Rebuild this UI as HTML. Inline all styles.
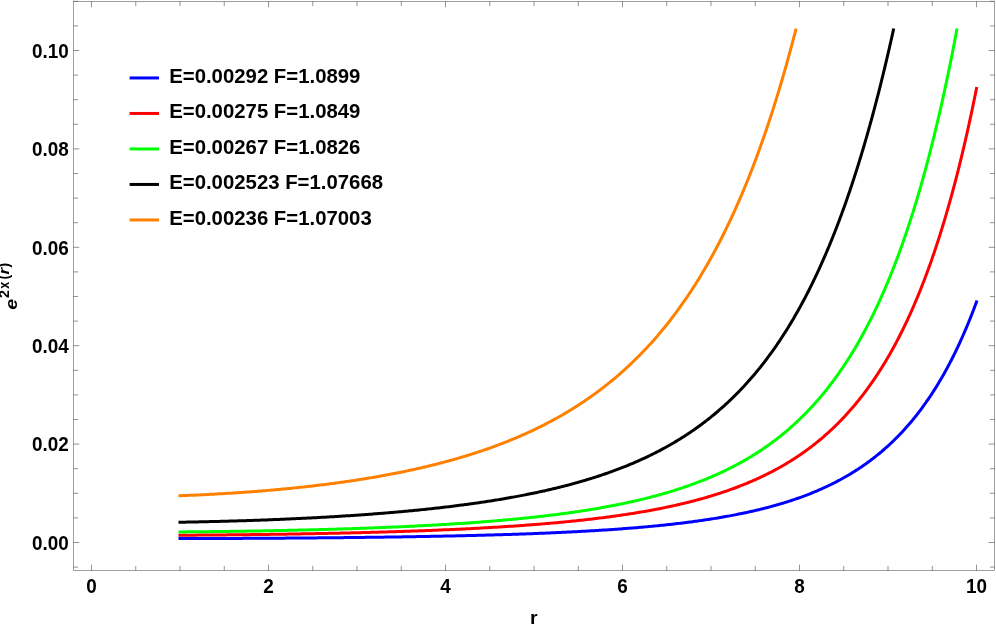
<!DOCTYPE html>
<html><head><meta charset="utf-8"><title>plot</title>
<style>
html,body{margin:0;padding:0;background:#fff;}
body{width:996px;height:626px;overflow:hidden;}
svg{display:block;will-change:transform;}
text{font-family:"Liberation Sans",sans-serif;font-weight:bold;fill:#000;}
</style></head><body>
<svg width="996" height="626" viewBox="0 0 996 626">
<rect x="0" y="0" width="996" height="626" fill="#fff"/>
<g fill="none" stroke-width="3" stroke-linecap="square" stroke-linejoin="round">
<path stroke="#0000ff" d="M180.00,538.61 L181.77,538.61 L183.54,538.60 L185.31,538.60 L187.08,538.59 L188.85,538.59 L190.62,538.58 L192.39,538.58 L194.16,538.57 L195.93,538.57 L197.70,538.56 L199.47,538.56 L201.24,538.55 L203.01,538.54 L204.78,538.54 L206.55,538.53 L208.32,538.52 L210.09,538.52 L211.86,538.51 L213.63,538.50 L215.40,538.50 L217.17,538.49 L218.94,538.48 L220.71,538.48 L222.48,538.47 L224.25,538.46 L226.02,538.45 L227.79,538.45 L229.56,538.44 L231.33,538.43 L233.10,538.42 L234.87,538.41 L236.64,538.41 L238.41,538.40 L240.18,538.39 L241.95,538.38 L243.72,538.37 L245.49,538.36 L247.26,538.35 L249.03,538.34 L250.80,538.33 L252.57,538.32 L254.34,538.31 L256.11,538.30 L257.88,538.29 L259.65,538.28 L261.42,538.27 L263.19,538.26 L264.96,538.25 L266.73,538.24 L268.50,538.23 L270.27,538.22 L272.04,538.21 L273.81,538.20 L275.58,538.19 L277.35,538.18 L279.12,538.16 L280.89,538.15 L282.66,538.14 L284.43,538.13 L286.20,538.12 L287.97,538.10 L289.74,538.09 L291.51,538.08 L293.28,538.06 L295.05,538.05 L296.82,538.04 L298.59,538.02 L300.36,538.01 L302.13,538.00 L303.90,537.98 L305.67,537.97 L307.44,537.95 L309.21,537.94 L310.98,537.93 L312.75,537.91 L314.52,537.90 L316.29,537.88 L318.06,537.86 L319.83,537.85 L321.60,537.83 L323.37,537.82 L325.14,537.80 L326.91,537.78 L328.68,537.77 L330.45,537.75 L332.22,537.73 L333.99,537.72 L335.76,537.70 L337.53,537.68 L339.30,537.66 L341.07,537.64 L342.84,537.63 L344.61,537.61 L346.38,537.59 L348.15,537.57 L349.92,537.55 L351.69,537.53 L353.46,537.51 L355.23,537.49 L357.00,537.47 L358.77,537.45 L360.54,537.43 L362.31,537.41 L364.08,537.39 L365.85,537.37 L367.62,537.35 L369.39,537.32 L371.16,537.30 L372.93,537.28 L374.70,537.26 L376.47,537.23 L378.24,537.21 L380.01,537.19 L381.78,537.16 L383.55,537.14 L385.32,537.11 L387.09,537.09 L388.86,537.06 L390.63,537.04 L392.40,537.01 L394.17,536.99 L395.94,536.96 L397.71,536.94 L399.48,536.91 L401.25,536.88 L403.02,536.85 L404.79,536.83 L406.56,536.80 L408.33,536.77 L410.10,536.74 L411.87,536.71 L413.64,536.68 L415.41,536.65 L417.18,536.62 L418.95,536.59 L420.72,536.56 L422.49,536.53 L424.26,536.50 L426.03,536.47 L427.80,536.43 L429.57,536.40 L431.34,536.37 L433.11,536.33 L434.88,536.30 L436.65,536.27 L438.42,536.23 L440.19,536.20 L441.96,536.16 L443.73,536.12 L445.50,536.09 L447.27,536.05 L449.04,536.01 L450.81,535.98 L452.58,535.94 L454.35,535.90 L456.12,535.86 L457.89,535.82 L459.66,535.78 L461.43,535.74 L463.20,535.70 L464.97,535.66 L466.74,535.62 L468.51,535.57 L470.28,535.53 L472.05,535.49 L473.82,535.44 L475.59,535.40 L477.36,535.35 L479.13,535.31 L480.90,535.26 L482.67,535.21 L484.44,535.16 L486.21,535.12 L487.98,535.07 L489.75,535.02 L491.52,534.97 L493.29,534.92 L495.06,534.87 L496.83,534.81 L498.60,534.76 L500.37,534.71 L502.14,534.66 L503.91,534.60 L505.68,534.55 L507.45,534.49 L509.22,534.43 L510.99,534.38 L512.76,534.32 L514.53,534.26 L516.30,534.20 L518.07,534.14 L519.84,534.08 L521.61,534.02 L523.38,533.95 L525.15,533.89 L526.92,533.83 L528.69,533.76 L530.46,533.70 L532.23,533.63 L534.00,533.56 L535.77,533.49 L537.54,533.42 L539.31,533.35 L541.08,533.28 L542.85,533.21 L544.62,533.14 L546.39,533.06 L548.16,532.99 L549.93,532.91 L551.70,532.84 L553.47,532.76 L555.24,532.68 L557.01,532.60 L558.78,532.52 L560.55,532.44 L562.32,532.36 L564.09,532.27 L565.86,532.19 L567.63,532.10 L569.40,532.01 L571.17,531.92 L572.94,531.83 L574.71,531.74 L576.48,531.65 L578.25,531.56 L580.02,531.46 L581.79,531.37 L583.56,531.27 L585.33,531.17 L587.10,531.07 L588.87,530.97 L590.64,530.87 L592.41,530.76 L594.18,530.66 L595.95,530.55 L597.72,530.44 L599.49,530.33 L601.26,530.22 L603.03,530.11 L604.80,529.99 L606.57,529.88 L608.34,529.76 L610.11,529.64 L611.88,529.52 L613.65,529.40 L615.42,529.27 L617.19,529.15 L618.96,529.02 L620.73,528.89 L622.50,528.76 L624.27,528.62 L626.04,528.49 L627.81,528.35 L629.58,528.21 L631.35,528.07 L633.12,527.93 L634.89,527.78 L636.66,527.64 L638.43,527.49 L640.20,527.33 L641.97,527.18 L643.74,527.03 L645.51,526.87 L647.28,526.71 L649.05,526.54 L650.82,526.38 L652.59,526.21 L654.36,526.04 L656.13,525.87 L657.90,525.69 L659.67,525.52 L661.44,525.34 L663.21,525.15 L664.98,524.97 L666.75,524.78 L668.52,524.59 L670.29,524.40 L672.06,524.20 L673.83,524.00 L675.60,523.80 L677.37,523.59 L679.14,523.38 L680.91,523.17 L682.68,522.95 L684.45,522.74 L686.22,522.51 L687.99,522.29 L689.76,522.06 L691.09,521.89 L692.41,521.71 L693.74,521.53 L695.07,521.35 L696.40,521.17 L697.73,520.99 L699.05,520.80 L700.38,520.61 L701.71,520.42 L703.03,520.23 L704.36,520.04 L705.69,519.84 L707.02,519.64 L708.35,519.44 L709.67,519.23 L711.00,519.03 L712.33,518.82 L713.65,518.61 L714.98,518.39 L716.31,518.18 L717.64,517.96 L718.97,517.74 L720.29,517.51 L721.62,517.29 L722.95,517.06 L724.27,516.83 L725.60,516.59 L726.93,516.35 L728.26,516.11 L729.59,515.87 L730.91,515.62 L732.24,515.37 L733.57,515.12 L734.90,514.86 L736.22,514.61 L737.55,514.34 L738.88,514.08 L740.21,513.81 L741.53,513.54 L742.86,513.27 L744.19,512.99 L745.52,512.71 L746.84,512.42 L748.17,512.13 L749.50,511.84 L750.83,511.55 L752.15,511.25 L753.48,510.94 L754.81,510.64 L756.13,510.33 L757.46,510.01 L758.79,509.69 L760.12,509.37 L761.45,509.05 L762.77,508.72 L764.10,508.38 L765.43,508.04 L766.75,507.70 L768.08,507.35 L769.41,507.00 L770.74,506.64 L772.07,506.28 L773.39,505.92 L774.72,505.55 L776.05,505.17 L777.38,504.79 L778.70,504.41 L780.03,504.02 L781.36,503.63 L782.69,503.23 L784.01,502.82 L785.34,502.41 L786.67,502.00 L788.00,501.58 L789.32,501.15 L790.65,500.72 L791.98,500.28 L793.30,499.84 L794.63,499.39 L795.96,498.94 L797.29,498.48 L798.62,498.01 L799.94,497.54 L801.27,497.06 L802.60,496.58 L803.93,496.08 L805.25,495.59 L806.58,495.08 L807.91,494.57 L809.23,494.05 L810.56,493.53 L811.89,492.99 L813.22,492.45 L814.54,491.91 L815.87,491.35 L817.20,490.79 L818.53,490.22 L819.86,489.64 L821.18,489.06 L822.51,488.47 L823.84,487.87 L825.16,487.26 L826.49,486.64 L827.82,486.01 L829.15,485.38 L830.48,484.73 L831.80,484.08 L833.13,483.42 L834.46,482.75 L835.78,482.07 L837.11,481.38 L838.44,480.68 L839.77,479.97 L841.09,479.25 L842.42,478.52 L843.75,477.79 L845.08,477.04 L846.41,476.28 L847.73,475.50 L849.06,474.72 L850.39,473.93 L851.72,473.12 L853.04,472.31 L854.37,471.48 L855.70,470.64 L857.02,469.79 L858.35,468.93 L859.68,468.05 L861.01,467.16 L862.34,466.26 L863.66,465.34 L864.55,464.73 L865.43,464.10 L866.32,463.47 L867.20,462.84 L868.09,462.19 L868.97,461.55 L869.86,460.89 L870.74,460.23 L871.63,459.56 L872.51,458.89 L873.40,458.21 L874.28,457.52 L875.17,456.83 L876.05,456.13 L876.94,455.42 L877.82,454.70 L878.71,453.98 L879.59,453.25 L880.48,452.52 L881.36,451.77 L882.25,451.02 L883.13,450.26 L884.02,449.50 L884.90,448.72 L885.79,447.94 L886.67,447.15 L887.56,446.35 L888.44,445.55 L889.33,444.73 L890.21,443.91 L891.10,443.08 L891.98,442.24 L892.87,441.39 L893.75,440.54 L894.64,439.67 L895.52,438.80 L896.41,437.92 L897.29,437.02 L898.18,436.12 L899.06,435.21 L899.95,434.29 L900.83,433.37 L901.72,432.43 L902.60,431.48 L903.49,430.52 L904.37,429.55 L905.26,428.57 L906.14,427.59 L907.03,426.59 L907.91,425.58 L908.80,424.56 L909.68,423.53 L910.57,422.49 L911.45,421.43 L912.34,420.37 L913.22,419.30 L914.11,418.21 L914.99,417.11 L915.88,416.00 L916.76,414.88 L917.65,413.75 L918.53,412.61 L919.42,411.45 L920.30,410.28 L921.19,409.10 L922.07,407.90 L922.96,406.70 L923.84,405.48 L924.73,404.24 L925.61,403.00 L926.50,401.74 L927.38,400.46 L928.27,399.17 L929.15,397.87 L930.04,396.56 L930.92,395.22 L931.81,393.88 L932.69,392.52 L933.58,391.15 L934.46,389.76 L935.35,388.35 L936.23,386.93 L937.12,385.49 L938.00,384.04 L938.89,382.57 L939.77,381.09 L940.66,379.59 L941.54,378.07 L942.43,376.53 L943.31,374.98 L944.20,373.41 L945.08,371.83 L945.97,370.22 L946.85,368.60 L947.74,366.96 L948.62,365.30 L949.51,363.62 L950.39,361.92 L951.28,360.20 L952.16,358.47 L953.05,356.71 L953.93,354.93 L954.82,353.14 L955.70,351.32 L956.59,349.48 L957.47,347.62 L958.36,345.74 L959.24,343.84 L960.13,341.91 L961.01,339.97 L961.90,338.00 L962.78,336.00 L963.67,333.99 L964.55,331.95 L965.44,329.89 L966.32,327.80 L967.21,325.69 L967.65,324.62 L968.09,323.55 L968.53,322.47 L968.98,321.39 L969.42,320.30 L969.86,319.20 L970.30,318.09 L970.75,316.98 L971.19,315.87 L971.63,314.74 L972.08,313.61 L972.52,312.48 L972.96,311.33 L973.40,310.18 L973.85,309.03 L974.29,307.86 L974.73,306.69 L975.17,305.51 L975.62,304.33 L976.06,303.14 L976.50,301.94"/>
<path stroke="#ff0000" d="M180.00,535.23 L181.77,535.22 L183.54,535.21 L185.31,535.20 L187.08,535.19 L188.85,535.18 L190.62,535.17 L192.39,535.15 L194.16,535.14 L195.93,535.13 L197.70,535.12 L199.47,535.10 L201.24,535.09 L203.01,535.08 L204.78,535.06 L206.55,535.05 L208.32,535.03 L210.09,535.02 L211.86,535.00 L213.63,534.99 L215.40,534.97 L217.17,534.96 L218.94,534.94 L220.71,534.93 L222.48,534.91 L224.25,534.89 L226.02,534.88 L227.79,534.86 L229.56,534.84 L231.33,534.82 L233.10,534.80 L234.87,534.79 L236.64,534.77 L238.41,534.75 L240.18,534.73 L241.95,534.71 L243.72,534.69 L245.49,534.67 L247.26,534.65 L249.03,534.63 L250.80,534.61 L252.57,534.59 L254.34,534.57 L256.11,534.54 L257.88,534.52 L259.65,534.50 L261.42,534.48 L263.19,534.46 L264.96,534.43 L266.73,534.41 L268.50,534.38 L270.27,534.36 L272.04,534.34 L273.81,534.31 L275.58,534.29 L277.35,534.26 L279.12,534.23 L280.89,534.21 L282.66,534.18 L284.43,534.16 L286.20,534.13 L287.97,534.10 L289.74,534.07 L291.51,534.04 L293.28,534.02 L295.05,533.99 L296.82,533.96 L298.59,533.93 L300.36,533.90 L302.13,533.87 L303.90,533.84 L305.67,533.81 L307.44,533.78 L309.21,533.74 L310.98,533.71 L312.75,533.68 L314.52,533.65 L316.29,533.61 L318.06,533.58 L319.83,533.55 L321.60,533.51 L323.37,533.48 L325.14,533.44 L326.91,533.40 L328.68,533.37 L330.45,533.33 L332.22,533.29 L333.99,533.26 L335.76,533.22 L337.53,533.18 L339.30,533.14 L341.07,533.10 L342.84,533.06 L344.61,533.02 L346.38,532.98 L348.15,532.94 L349.92,532.90 L351.69,532.86 L353.46,532.82 L355.23,532.77 L357.00,532.73 L358.77,532.69 L360.54,532.64 L362.31,532.60 L364.08,532.55 L365.85,532.50 L367.62,532.46 L369.39,532.41 L371.16,532.36 L372.93,532.31 L374.70,532.27 L376.47,532.22 L378.24,532.17 L380.01,532.12 L381.78,532.07 L383.55,532.01 L385.32,531.96 L387.09,531.91 L388.86,531.86 L390.63,531.80 L392.40,531.75 L394.17,531.69 L395.94,531.64 L397.71,531.58 L399.48,531.52 L401.25,531.47 L403.02,531.41 L404.79,531.35 L406.56,531.29 L408.33,531.23 L410.10,531.17 L411.87,531.11 L413.64,531.04 L415.41,530.98 L417.18,530.92 L418.95,530.85 L420.72,530.79 L422.49,530.72 L424.26,530.65 L426.03,530.59 L427.80,530.52 L429.57,530.45 L431.34,530.38 L433.11,530.31 L434.88,530.24 L436.65,530.17 L438.42,530.09 L440.19,530.02 L441.96,529.94 L443.73,529.87 L445.50,529.79 L447.27,529.72 L449.04,529.64 L450.81,529.56 L452.58,529.48 L454.35,529.40 L456.12,529.32 L457.89,529.23 L459.66,529.15 L461.43,529.06 L463.20,528.98 L464.97,528.89 L466.74,528.80 L468.51,528.72 L470.28,528.63 L472.05,528.53 L473.82,528.44 L475.59,528.35 L477.36,528.26 L479.13,528.16 L480.90,528.07 L482.67,527.97 L484.44,527.87 L486.21,527.77 L487.98,527.67 L489.75,527.57 L491.52,527.46 L493.29,527.36 L495.06,527.25 L496.83,527.15 L498.60,527.04 L500.37,526.93 L502.14,526.82 L503.91,526.71 L505.68,526.59 L507.45,526.48 L509.22,526.36 L510.99,526.25 L512.76,526.13 L514.53,526.01 L516.30,525.89 L518.07,525.76 L519.84,525.64 L521.61,525.51 L523.38,525.38 L525.15,525.25 L526.92,525.12 L528.69,524.99 L530.46,524.86 L532.23,524.72 L534.00,524.58 L535.77,524.45 L537.54,524.30 L539.31,524.16 L541.08,524.02 L542.85,523.87 L544.62,523.72 L546.39,523.58 L548.16,523.42 L549.93,523.27 L551.70,523.12 L553.47,522.96 L555.24,522.80 L557.01,522.64 L558.78,522.47 L560.55,522.31 L562.32,522.14 L564.09,521.97 L565.86,521.80 L567.63,521.63 L569.40,521.45 L571.17,521.27 L572.94,521.09 L574.71,520.91 L576.48,520.73 L578.25,520.54 L580.02,520.35 L581.79,520.16 L583.56,519.96 L585.33,519.76 L587.10,519.56 L588.87,519.36 L590.64,519.16 L592.41,518.95 L594.18,518.74 L595.95,518.53 L597.72,518.31 L599.49,518.09 L601.26,517.87 L603.03,517.65 L604.80,517.42 L606.13,517.25 L607.46,517.07 L608.78,516.89 L610.11,516.72 L611.44,516.54 L612.76,516.36 L614.09,516.17 L615.42,515.99 L616.75,515.80 L618.08,515.61 L619.40,515.42 L620.73,515.23 L622.06,515.03 L623.38,514.84 L624.71,514.64 L626.04,514.44 L627.37,514.24 L628.70,514.03 L630.02,513.82 L631.35,513.61 L632.68,513.40 L634.00,513.19 L635.33,512.97 L636.66,512.76 L637.99,512.54 L639.32,512.32 L640.64,512.09 L641.97,511.86 L643.30,511.63 L644.62,511.40 L645.95,511.17 L647.28,510.93 L648.61,510.69 L649.94,510.45 L651.26,510.21 L652.59,509.96 L653.92,509.71 L655.25,509.46 L656.57,509.21 L657.90,508.95 L659.23,508.69 L660.55,508.43 L661.88,508.16 L663.21,507.89 L664.54,507.62 L665.87,507.35 L667.19,507.07 L668.52,506.79 L669.85,506.51 L671.17,506.22 L672.50,505.93 L673.83,505.64 L675.16,505.34 L676.49,505.05 L677.81,504.74 L679.14,504.44 L680.47,504.13 L681.79,503.82 L683.12,503.50 L684.45,503.18 L685.78,502.86 L687.11,502.54 L688.43,502.21 L689.76,501.87 L691.09,501.54 L692.41,501.20 L693.74,500.85 L695.07,500.50 L696.40,500.15 L697.73,499.79 L699.05,499.43 L700.38,499.07 L701.71,498.70 L703.03,498.33 L704.36,497.95 L705.69,497.57 L707.02,497.19 L708.35,496.80 L709.67,496.40 L711.00,496.00 L712.33,495.60 L713.65,495.19 L714.98,494.78 L716.31,494.36 L717.64,493.94 L718.97,493.51 L720.29,493.08 L721.62,492.65 L722.95,492.20 L724.27,491.76 L725.60,491.30 L726.93,490.85 L728.26,490.38 L729.59,489.92 L730.91,489.44 L732.24,488.96 L733.57,488.48 L734.90,487.99 L736.22,487.49 L737.55,486.99 L738.88,486.48 L740.21,485.96 L741.53,485.44 L742.86,484.92 L744.19,484.38 L745.52,483.84 L746.84,483.30 L748.17,482.75 L749.50,482.19 L750.83,481.62 L752.15,481.05 L753.48,480.47 L754.81,479.88 L756.13,479.28 L757.46,478.68 L758.79,478.07 L760.12,477.46 L761.45,476.83 L762.77,476.20 L764.10,475.56 L765.43,474.92 L766.75,474.26 L768.08,473.60 L769.41,472.93 L770.74,472.24 L772.07,471.56 L773.39,470.86 L774.72,470.15 L776.05,469.44 L777.38,468.71 L778.70,467.98 L780.03,467.24 L781.36,466.49 L782.69,465.73 L784.01,464.95 L785.34,464.17 L786.67,463.38 L788.00,462.58 L789.32,461.77 L790.65,460.95 L791.98,460.12 L793.30,459.27 L794.63,458.42 L795.96,457.56 L797.29,456.68 L798.62,455.79 L799.94,454.89 L801.27,453.98 L802.60,453.06 L803.48,452.44 L804.37,451.81 L805.25,451.18 L806.14,450.54 L807.02,449.89 L807.91,449.24 L808.79,448.59 L809.68,447.93 L810.56,447.26 L811.45,446.59 L812.33,445.91 L813.22,445.22 L814.10,444.53 L814.99,443.84 L815.87,443.13 L816.76,442.42 L817.64,441.71 L818.53,440.99 L819.41,440.26 L820.30,439.52 L821.18,438.78 L822.07,438.03 L822.95,437.28 L823.84,436.51 L824.72,435.74 L825.61,434.97 L826.49,434.19 L827.38,433.40 L828.26,432.60 L829.15,431.79 L830.03,430.98 L830.92,430.16 L831.80,429.34 L832.69,428.50 L833.57,427.66 L834.46,426.81 L835.34,425.95 L836.23,425.09 L837.11,424.22 L838.00,423.33 L838.88,422.44 L839.77,421.55 L840.65,420.64 L841.54,419.73 L842.42,418.80 L843.31,417.87 L844.19,416.93 L845.08,415.98 L845.96,415.03 L846.85,414.06 L847.73,413.08 L848.62,412.10 L849.50,411.11 L850.39,410.10 L851.27,409.09 L852.16,408.07 L853.04,407.04 L853.93,405.99 L854.81,404.94 L855.70,403.88 L856.58,402.81 L857.47,401.73 L858.35,400.64 L859.24,399.53 L860.12,398.42 L861.01,397.30 L861.89,396.16 L862.78,395.02 L863.66,393.86 L864.55,392.69 L865.43,391.51 L866.32,390.32 L867.20,389.12 L868.09,387.91 L868.97,386.68 L869.86,385.45 L870.74,384.20 L871.63,382.94 L872.51,381.66 L873.40,380.38 L874.28,379.08 L875.17,377.77 L876.05,376.45 L876.94,375.11 L877.82,373.76 L878.71,372.40 L879.59,371.02 L880.48,369.63 L881.36,368.23 L882.25,366.81 L883.13,365.38 L884.02,363.93 L884.90,362.47 L885.79,360.99 L886.67,359.50 L887.56,358.00 L888.44,356.48 L889.33,354.95 L890.21,353.40 L891.10,351.83 L891.98,350.25 L892.87,348.65 L893.75,347.04 L894.64,345.41 L895.52,343.76 L896.41,342.10 L897.29,340.42 L898.18,338.72 L899.06,337.01 L899.95,335.28 L900.83,333.53 L901.72,331.76 L902.60,329.98 L903.49,328.17 L904.37,326.35 L905.26,324.51 L906.14,322.65 L907.03,320.77 L907.91,318.87 L908.80,316.95 L909.68,315.02 L910.57,313.06 L911.45,311.08 L912.34,309.08 L913.22,307.06 L914.11,305.02 L914.99,302.96 L915.88,300.88 L916.76,298.77 L917.21,297.71 L917.65,296.64 L918.09,295.57 L918.53,294.50 L918.98,293.41 L919.42,292.32 L919.86,291.23 L920.30,290.13 L920.75,289.02 L921.19,287.91 L921.63,286.79 L922.07,285.67 L922.52,284.54 L922.96,283.40 L923.40,282.26 L923.84,281.11 L924.28,279.96 L924.73,278.80 L925.17,277.63 L925.61,276.46 L926.05,275.28 L926.50,274.10 L926.94,272.91 L927.38,271.71 L927.82,270.50 L928.27,269.29 L928.71,268.08 L929.15,266.85 L929.60,265.63 L930.04,264.39 L930.48,263.15 L930.92,261.90 L931.37,260.64 L931.81,259.38 L932.25,258.11 L932.69,256.83 L933.13,255.55 L933.58,254.26 L934.02,252.96 L934.46,251.66 L934.90,250.34 L935.35,249.03 L935.79,247.70 L936.23,246.37 L936.68,245.03 L937.12,243.68 L937.56,242.33 L938.00,240.97 L938.45,239.60 L938.89,238.22 L939.33,236.84 L939.77,235.44 L940.22,234.05 L940.66,232.64 L941.10,231.22 L941.54,229.80 L941.98,228.37 L942.43,226.94 L942.87,225.49 L943.31,224.04 L943.76,222.58 L944.20,221.11 L944.64,219.63 L945.08,218.14 L945.52,216.65 L945.97,215.15 L946.41,213.64 L946.85,212.12 L947.29,210.59 L947.74,209.06 L948.18,207.51 L948.62,205.96 L949.06,204.40 L949.51,202.83 L949.95,201.26 L950.39,199.67 L950.84,198.07 L951.28,196.47 L951.72,194.86 L952.16,193.23 L952.61,191.60 L953.05,189.96 L953.49,188.31 L953.93,186.66 L954.38,184.99 L954.82,183.31 L955.26,181.62 L955.70,179.93 L956.14,178.22 L956.59,176.51 L957.03,174.78 L957.47,173.05 L957.92,171.31 L958.36,169.55 L958.80,167.79 L959.24,166.02 L959.69,164.23 L960.13,162.44 L960.57,160.64 L961.01,158.82 L961.46,157.00 L961.90,155.17 L962.34,153.32 L962.78,151.47 L963.23,149.60 L963.67,147.73 L964.11,145.84 L964.55,143.94 L965.00,142.04 L965.44,140.12 L965.88,138.19 L966.32,136.25 L966.77,134.30 L967.21,132.33 L967.65,130.36 L968.09,128.37 L968.53,126.38 L968.98,124.37 L969.42,122.35 L969.86,120.32 L970.30,118.28 L970.75,116.22 L971.19,114.16 L971.63,112.08 L972.08,109.99 L972.52,107.89 L972.96,105.77 L973.40,103.65 L973.85,101.51 L974.29,99.36 L974.73,97.20 L975.17,95.02 L975.62,92.83 L976.06,90.63 L976.50,88.42"/>
<path stroke="#00ff00" d="M180.00,531.92 L181.77,531.91 L183.54,531.89 L185.31,531.88 L187.08,531.86 L188.85,531.85 L190.62,531.83 L192.39,531.81 L194.16,531.80 L195.93,531.78 L197.70,531.76 L199.47,531.74 L201.24,531.72 L203.01,531.71 L204.78,531.69 L206.55,531.67 L208.32,531.65 L210.09,531.63 L211.86,531.61 L213.63,531.59 L215.40,531.56 L217.17,531.54 L218.94,531.52 L220.71,531.50 L222.48,531.48 L224.25,531.45 L226.02,531.43 L227.79,531.41 L229.56,531.38 L231.33,531.36 L233.10,531.33 L234.87,531.31 L236.64,531.28 L238.41,531.26 L240.18,531.23 L241.95,531.20 L243.72,531.17 L245.49,531.15 L247.26,531.12 L249.03,531.09 L250.80,531.06 L252.57,531.03 L254.34,531.00 L256.11,530.97 L257.88,530.94 L259.65,530.91 L261.42,530.88 L263.19,530.85 L264.96,530.82 L266.73,530.79 L268.50,530.75 L270.27,530.72 L272.04,530.69 L273.81,530.65 L275.58,530.62 L277.35,530.58 L279.12,530.55 L280.89,530.51 L282.66,530.47 L284.43,530.44 L286.20,530.40 L287.97,530.36 L289.74,530.32 L291.51,530.28 L293.28,530.24 L295.05,530.20 L296.82,530.16 L298.59,530.12 L300.36,530.08 L302.13,530.04 L303.90,530.00 L305.67,529.96 L307.44,529.91 L309.21,529.87 L310.98,529.82 L312.75,529.78 L314.52,529.73 L316.29,529.69 L318.06,529.64 L319.83,529.59 L321.60,529.55 L323.37,529.50 L325.14,529.45 L326.91,529.40 L328.68,529.35 L330.45,529.30 L332.22,529.25 L333.99,529.20 L335.76,529.14 L337.53,529.09 L339.30,529.04 L341.07,528.98 L342.84,528.93 L344.61,528.87 L346.38,528.82 L348.15,528.76 L349.92,528.70 L351.69,528.64 L353.46,528.59 L355.23,528.53 L357.00,528.47 L358.77,528.40 L360.54,528.34 L362.31,528.28 L364.08,528.22 L365.85,528.15 L367.62,528.09 L369.39,528.02 L371.16,527.96 L372.93,527.89 L374.70,527.83 L376.47,527.76 L378.24,527.69 L380.01,527.62 L381.78,527.55 L383.55,527.48 L385.32,527.40 L387.09,527.33 L388.86,527.26 L390.63,527.18 L392.40,527.11 L394.17,527.03 L395.94,526.95 L397.71,526.88 L399.48,526.80 L401.25,526.72 L403.02,526.64 L404.79,526.56 L406.56,526.47 L408.33,526.39 L410.10,526.31 L411.87,526.22 L413.64,526.13 L415.41,526.05 L417.18,525.96 L418.95,525.87 L420.72,525.78 L422.49,525.69 L424.26,525.59 L426.03,525.50 L427.80,525.41 L429.57,525.31 L431.34,525.21 L433.11,525.12 L434.88,525.02 L436.65,524.92 L438.42,524.82 L440.19,524.71 L441.96,524.61 L443.73,524.50 L445.50,524.40 L447.27,524.29 L449.04,524.18 L450.81,524.07 L452.58,523.96 L454.35,523.85 L456.12,523.74 L457.89,523.62 L459.66,523.50 L461.43,523.39 L463.20,523.27 L464.97,523.15 L466.74,523.03 L468.51,522.90 L470.28,522.78 L472.05,522.65 L473.82,522.53 L475.59,522.40 L477.36,522.27 L479.13,522.13 L480.90,522.00 L482.67,521.86 L484.44,521.73 L486.21,521.59 L487.98,521.45 L489.75,521.31 L491.52,521.16 L493.29,521.02 L495.06,520.87 L496.83,520.72 L498.60,520.57 L500.37,520.42 L502.14,520.27 L503.91,520.11 L505.68,519.95 L507.45,519.79 L509.22,519.63 L510.99,519.47 L512.76,519.30 L514.53,519.14 L516.30,518.97 L518.07,518.80 L519.84,518.62 L521.61,518.45 L523.38,518.27 L525.15,518.09 L526.92,517.91 L528.69,517.72 L530.46,517.53 L532.23,517.35 L534.00,517.15 L535.77,516.96 L537.54,516.76 L539.31,516.57 L541.08,516.36 L542.85,516.16 L544.62,515.96 L546.39,515.75 L548.16,515.54 L549.93,515.32 L551.70,515.10 L553.47,514.89 L555.24,514.66 L557.01,514.44 L558.78,514.21 L560.11,514.04 L561.44,513.86 L562.76,513.69 L564.09,513.51 L565.42,513.33 L566.75,513.15 L568.07,512.97 L569.40,512.78 L570.73,512.60 L572.05,512.41 L573.38,512.22 L574.71,512.03 L576.04,511.83 L577.37,511.64 L578.69,511.44 L580.02,511.24 L581.35,511.04 L582.67,510.83 L584.00,510.63 L585.33,510.42 L586.66,510.21 L587.99,510.00 L589.31,509.79 L590.64,509.57 L591.97,509.35 L593.30,509.14 L594.62,508.91 L595.95,508.69 L597.28,508.46 L598.61,508.23 L599.93,508.00 L601.26,507.77 L602.59,507.53 L603.91,507.30 L605.24,507.06 L606.57,506.81 L607.90,506.57 L609.23,506.32 L610.55,506.07 L611.88,505.82 L613.21,505.56 L614.53,505.31 L615.86,505.04 L617.19,504.78 L618.52,504.52 L619.85,504.25 L621.17,503.98 L622.50,503.70 L623.83,503.43 L625.15,503.15 L626.48,502.86 L627.81,502.58 L629.14,502.29 L630.47,502.00 L631.79,501.70 L633.12,501.41 L634.45,501.11 L635.77,500.80 L637.10,500.50 L638.43,500.19 L639.76,499.87 L641.09,499.56 L642.41,499.24 L643.74,498.91 L645.07,498.59 L646.40,498.26 L647.72,497.92 L649.05,497.59 L650.38,497.25 L651.71,496.90 L653.03,496.56 L654.36,496.20 L655.69,495.85 L657.01,495.49 L658.34,495.13 L659.67,494.76 L661.00,494.39 L662.33,494.01 L663.65,493.64 L664.98,493.25 L666.31,492.87 L667.63,492.47 L668.96,492.08 L670.29,491.68 L671.62,491.28 L672.95,490.87 L674.27,490.45 L675.60,490.04 L676.93,489.61 L678.25,489.19 L679.58,488.76 L680.91,488.32 L682.24,487.88 L683.57,487.43 L684.89,486.98 L686.22,486.53 L687.55,486.07 L688.88,485.60 L690.20,485.13 L691.53,484.65 L692.86,484.17 L694.19,483.68 L695.51,483.19 L696.84,482.69 L698.17,482.19 L699.50,481.68 L700.82,481.16 L702.15,480.64 L703.48,480.11 L704.80,479.58 L706.13,479.04 L707.46,478.50 L708.79,477.95 L710.12,477.39 L711.44,476.82 L712.77,476.25 L714.10,475.67 L715.42,475.09 L716.75,474.50 L718.08,473.90 L719.41,473.30 L720.74,472.68 L722.06,472.07 L723.39,471.44 L724.72,470.81 L726.04,470.17 L727.37,469.52 L728.70,468.86 L730.03,468.20 L731.36,467.53 L732.68,466.85 L734.01,466.16 L735.34,465.46 L736.66,464.76 L737.99,464.05 L739.32,463.32 L740.65,462.59 L741.98,461.86 L743.30,461.11 L744.63,460.35 L745.96,459.59 L747.28,458.81 L748.61,458.03 L749.94,457.24 L751.27,456.43 L752.60,455.62 L753.92,454.80 L755.25,453.96 L756.58,453.12 L757.90,452.27 L759.23,451.40 L760.56,450.53 L761.89,449.64 L763.22,448.75 L764.54,447.84 L765.87,446.92 L766.75,446.30 L767.64,445.68 L768.52,445.05 L769.41,444.41 L770.29,443.78 L771.18,443.13 L772.07,442.48 L772.95,441.82 L773.84,441.16 L774.72,440.50 L775.61,439.82 L776.49,439.15 L777.38,438.46 L778.26,437.77 L779.15,437.08 L780.03,436.38 L780.91,435.67 L781.80,434.96 L782.69,434.24 L783.57,433.52 L784.46,432.78 L785.34,432.05 L786.23,431.30 L787.11,430.55 L788.00,429.80 L788.88,429.04 L789.77,428.27 L790.65,427.49 L791.53,426.71 L792.42,425.92 L793.30,425.12 L794.19,424.32 L795.08,423.51 L795.96,422.69 L796.85,421.87 L797.73,421.04 L798.62,420.20 L799.50,419.36 L800.38,418.50 L801.27,417.65 L802.16,416.78 L803.04,415.90 L803.93,415.02 L804.81,414.13 L805.70,413.23 L806.58,412.33 L807.47,411.41 L808.35,410.49 L809.23,409.56 L810.12,408.62 L811.00,407.68 L811.89,406.72 L812.77,405.76 L813.66,404.79 L814.54,403.81 L815.43,402.82 L816.32,401.82 L817.20,400.82 L818.09,399.80 L818.97,398.78 L819.86,397.74 L820.74,396.70 L821.62,395.65 L822.51,394.59 L823.39,393.52 L824.28,392.44 L825.16,391.35 L826.05,390.25 L826.94,389.14 L827.82,388.02 L828.71,386.89 L829.59,385.75 L830.48,384.60 L831.36,383.44 L832.25,382.26 L833.13,381.08 L834.02,379.89 L834.90,378.69 L835.78,377.47 L836.67,376.25 L837.55,375.01 L838.44,373.76 L839.32,372.50 L840.21,371.23 L841.09,369.95 L841.98,368.65 L842.87,367.35 L843.75,366.03 L844.63,364.70 L845.52,363.35 L846.41,362.00 L847.29,360.63 L848.18,359.25 L849.06,357.86 L849.95,356.45 L850.83,355.03 L851.72,353.60 L852.60,352.15 L853.48,350.69 L854.37,349.22 L855.25,347.73 L856.14,346.23 L857.02,344.71 L857.91,343.19 L858.79,341.64 L859.68,340.08 L860.57,338.51 L861.45,336.92 L862.34,335.32 L863.22,333.70 L864.11,332.07 L864.99,330.42 L865.88,328.75 L866.76,327.07 L867.64,325.38 L868.53,323.66 L869.41,321.93 L870.30,320.19 L871.19,318.43 L872.07,316.65 L872.96,314.85 L873.84,313.04 L874.73,311.20 L875.61,309.36 L876.50,307.49 L877.38,305.60 L878.27,303.70 L879.15,301.78 L880.03,299.84 L880.92,297.88 L881.80,295.90 L882.69,293.91 L883.57,291.89 L884.46,289.85 L885.34,287.80 L886.23,285.72 L887.12,283.62 L888.00,281.50 L888.44,280.44 L888.88,279.37 L889.33,278.29 L889.77,277.21 L890.21,276.12 L890.65,275.03 L891.10,273.93 L891.54,272.82 L891.98,271.71 L892.43,270.60 L892.87,269.48 L893.31,268.35 L893.75,267.22 L894.20,266.09 L894.64,264.94 L895.08,263.79 L895.52,262.64 L895.97,261.48 L896.41,260.32 L896.85,259.14 L897.29,257.97 L897.73,256.78 L898.18,255.60 L898.62,254.40 L899.06,253.20 L899.51,251.99 L899.95,250.78 L900.39,249.56 L900.83,248.34 L901.27,247.11 L901.72,245.87 L902.16,244.63 L902.60,243.38 L903.04,242.12 L903.49,240.86 L903.93,239.59 L904.37,238.32 L904.81,237.04 L905.26,235.75 L905.70,234.46 L906.14,233.16 L906.59,231.85 L907.03,230.53 L907.47,229.21 L907.91,227.89 L908.36,226.55 L908.80,225.21 L909.24,223.87 L909.68,222.51 L910.12,221.15 L910.57,219.79 L911.01,218.41 L911.45,217.03 L911.89,215.64 L912.34,214.25 L912.78,212.84 L913.22,211.43 L913.67,210.02 L914.11,208.59 L914.55,207.16 L914.99,205.72 L915.44,204.28 L915.88,202.82 L916.32,201.36 L916.76,199.89 L917.21,198.42 L917.65,196.94 L918.09,195.44 L918.53,193.95 L918.98,192.44 L919.42,190.93 L919.86,189.40 L920.30,187.87 L920.75,186.34 L921.19,184.79 L921.63,183.24 L922.07,181.68 L922.52,180.11 L922.96,178.53 L923.40,176.95 L923.84,175.35 L924.28,173.75 L924.73,172.14 L925.17,170.52 L925.61,168.90 L926.05,167.26 L926.50,165.62 L926.94,163.97 L927.38,162.30 L927.82,160.64 L928.27,158.96 L928.71,157.27 L929.15,155.58 L929.60,153.87 L930.04,152.16 L930.48,150.44 L930.92,148.70 L931.37,146.96 L931.81,145.22 L932.25,143.46 L932.69,141.69 L933.13,139.91 L933.58,138.13 L934.02,136.33 L934.46,134.53 L934.90,132.71 L935.35,130.89 L935.79,129.06 L936.23,127.21 L936.68,125.36 L937.12,123.50 L937.56,121.63 L938.00,119.74 L938.45,117.85 L938.89,115.95 L939.33,114.04 L939.77,112.12 L940.22,110.18 L940.66,108.24 L941.10,106.29 L941.54,104.33 L941.98,102.35 L942.43,100.37 L942.87,98.37 L943.31,96.37 L943.76,94.35 L944.20,92.33 L944.64,90.29 L945.08,88.24 L945.52,86.18 L945.97,84.11 L946.41,82.03 L946.85,79.94 L947.29,77.84 L947.74,75.72 L948.18,73.60 L948.62,71.46 L949.06,69.31 L949.51,67.15 L949.95,64.98 L950.39,62.80 L950.84,60.60 L951.28,58.40 L951.72,56.18 L952.16,53.95 L952.61,51.71 L953.05,49.45 L953.49,47.19 L953.93,44.91 L954.38,42.62 L954.82,40.31 L955.26,38.00 L955.70,35.67 L956.14,33.33 L956.59,30.98 L956.77,30.00"/>
<path stroke="#000000" d="M180.00,522.24 L181.77,522.21 L183.54,522.18 L185.31,522.15 L187.08,522.12 L188.85,522.08 L190.62,522.05 L192.39,522.01 L194.16,521.98 L195.93,521.94 L197.70,521.90 L199.47,521.86 L201.24,521.83 L203.01,521.79 L204.78,521.75 L206.55,521.71 L208.32,521.66 L210.09,521.62 L211.86,521.58 L213.63,521.54 L215.40,521.49 L217.17,521.45 L218.94,521.40 L220.71,521.35 L222.48,521.31 L224.25,521.26 L226.02,521.21 L227.79,521.16 L229.56,521.11 L231.33,521.06 L233.10,521.01 L234.87,520.96 L236.64,520.90 L238.41,520.85 L240.18,520.80 L241.95,520.74 L243.72,520.68 L245.49,520.63 L247.26,520.57 L249.03,520.51 L250.80,520.45 L252.57,520.39 L254.34,520.33 L256.11,520.27 L257.88,520.20 L259.65,520.14 L261.42,520.08 L263.19,520.01 L264.96,519.94 L266.73,519.88 L268.50,519.81 L270.27,519.74 L272.04,519.67 L273.81,519.60 L275.58,519.53 L277.35,519.46 L279.12,519.38 L280.89,519.31 L282.66,519.24 L284.43,519.16 L286.20,519.08 L287.97,519.01 L289.74,518.93 L291.51,518.85 L293.28,518.77 L295.05,518.68 L296.82,518.60 L298.59,518.52 L300.36,518.43 L302.13,518.35 L303.90,518.26 L305.67,518.17 L307.44,518.09 L309.21,518.00 L310.98,517.91 L312.75,517.81 L314.52,517.72 L316.29,517.63 L318.06,517.53 L319.83,517.44 L321.60,517.34 L323.37,517.24 L325.14,517.14 L326.91,517.04 L328.68,516.94 L330.45,516.84 L332.22,516.73 L333.99,516.63 L335.76,516.52 L337.53,516.42 L339.30,516.31 L341.07,516.20 L342.84,516.09 L344.61,515.98 L346.38,515.86 L348.15,515.75 L349.92,515.63 L351.69,515.51 L353.46,515.40 L355.23,515.28 L357.00,515.15 L358.77,515.03 L360.54,514.91 L362.31,514.78 L364.08,514.66 L365.85,514.53 L367.62,514.40 L369.39,514.27 L371.16,514.14 L372.93,514.00 L374.70,513.87 L376.47,513.73 L378.24,513.59 L380.01,513.46 L381.78,513.31 L383.55,513.17 L385.32,513.03 L387.09,512.88 L388.86,512.74 L390.63,512.59 L392.40,512.44 L394.17,512.28 L395.94,512.13 L397.71,511.98 L399.48,511.82 L401.25,511.66 L403.02,511.50 L404.79,511.34 L406.56,511.17 L408.33,511.01 L410.10,510.84 L411.87,510.67 L413.64,510.50 L415.41,510.33 L417.18,510.15 L418.95,509.98 L420.72,509.80 L422.49,509.62 L424.26,509.43 L426.03,509.25 L427.80,509.06 L429.57,508.88 L431.34,508.68 L433.11,508.49 L434.88,508.30 L436.65,508.10 L438.42,507.90 L440.19,507.70 L441.96,507.50 L443.73,507.29 L445.50,507.08 L447.27,506.87 L449.04,506.66 L450.81,506.45 L452.58,506.23 L454.35,506.01 L456.12,505.79 L457.89,505.56 L459.66,505.33 L461.43,505.11 L462.76,504.93 L464.08,504.76 L465.41,504.58 L466.74,504.40 L468.07,504.22 L469.39,504.04 L470.72,503.86 L472.05,503.67 L473.38,503.49 L474.70,503.30 L476.03,503.11 L477.36,502.92 L478.69,502.73 L480.02,502.53 L481.34,502.34 L482.67,502.14 L484.00,501.94 L485.32,501.74 L486.65,501.54 L487.98,501.34 L489.31,501.13 L490.63,500.92 L491.96,500.72 L493.29,500.50 L494.62,500.29 L495.95,500.08 L497.27,499.86 L498.60,499.64 L499.93,499.42 L501.25,499.20 L502.58,498.98 L503.91,498.75 L505.24,498.52 L506.56,498.29 L507.89,498.06 L509.22,497.83 L510.55,497.59 L511.88,497.35 L513.20,497.11 L514.53,496.87 L515.86,496.63 L517.19,496.38 L518.51,496.13 L519.84,495.88 L521.17,495.63 L522.50,495.37 L523.82,495.12 L525.15,494.86 L526.48,494.59 L527.80,494.33 L529.13,494.06 L530.46,493.79 L531.79,493.52 L533.12,493.25 L534.44,492.97 L535.77,492.69 L537.10,492.41 L538.42,492.13 L539.75,491.84 L541.08,491.55 L542.41,491.26 L543.74,490.97 L545.06,490.67 L546.39,490.37 L547.72,490.07 L549.05,489.76 L550.37,489.45 L551.70,489.14 L553.03,488.83 L554.36,488.51 L555.68,488.19 L557.01,487.87 L558.34,487.55 L559.66,487.22 L560.99,486.89 L562.32,486.55 L563.65,486.21 L564.98,485.87 L566.30,485.53 L567.63,485.18 L568.96,484.83 L570.29,484.48 L571.61,484.12 L572.94,483.76 L574.27,483.40 L575.60,483.03 L576.92,482.66 L578.25,482.28 L579.58,481.91 L580.90,481.52 L582.23,481.14 L583.56,480.75 L584.89,480.36 L586.21,479.96 L587.54,479.56 L588.87,479.16 L590.20,478.75 L591.53,478.34 L592.85,477.92 L594.18,477.50 L595.51,477.08 L596.84,476.65 L598.16,476.22 L599.49,475.78 L600.82,475.34 L602.14,474.90 L603.47,474.45 L604.80,473.99 L606.13,473.53 L607.46,473.07 L608.78,472.60 L610.11,472.13 L611.44,471.65 L612.76,471.17 L614.09,470.68 L615.42,470.19 L616.75,469.70 L618.08,469.20 L619.40,468.69 L620.73,468.18 L622.06,467.66 L623.38,467.14 L624.71,466.61 L626.04,466.08 L627.37,465.54 L628.70,465.00 L630.02,464.45 L631.35,463.89 L632.68,463.33 L634.00,462.77 L635.33,462.19 L636.66,461.62 L637.99,461.03 L639.32,460.44 L640.64,459.84 L641.97,459.24 L643.30,458.63 L644.62,458.02 L645.95,457.40 L647.28,456.77 L648.61,456.13 L649.94,455.49 L651.26,454.84 L652.59,454.19 L653.92,453.53 L655.25,452.86 L656.57,452.18 L657.90,451.50 L659.23,450.81 L660.55,450.11 L661.88,449.40 L663.21,448.69 L664.54,447.97 L665.87,447.24 L667.19,446.50 L668.52,445.76 L669.85,445.00 L671.17,444.24 L672.50,443.47 L673.83,442.70 L675.16,441.91 L676.49,441.12 L677.81,440.31 L679.14,439.50 L680.47,438.68 L681.79,437.85 L683.12,437.01 L684.45,436.16 L685.78,435.30 L687.11,434.43 L688.43,433.55 L689.76,432.67 L691.09,431.77 L692.41,430.86 L693.74,429.94 L694.63,429.33 L695.51,428.70 L696.40,428.08 L697.28,427.45 L698.17,426.81 L699.05,426.17 L699.94,425.52 L700.82,424.87 L701.71,424.21 L702.59,423.55 L703.48,422.89 L704.36,422.22 L705.25,421.54 L706.13,420.86 L707.02,420.17 L707.90,419.48 L708.79,418.79 L709.67,418.08 L710.56,417.38 L711.44,416.66 L712.33,415.94 L713.21,415.22 L714.10,414.49 L714.98,413.76 L715.87,413.01 L716.75,412.27 L717.64,411.52 L718.52,410.76 L719.41,409.99 L720.29,409.22 L721.18,408.45 L722.06,407.66 L722.95,406.88 L723.83,406.08 L724.72,405.28 L725.60,404.47 L726.49,403.66 L727.37,402.84 L728.26,402.02 L729.14,401.18 L730.03,400.34 L730.91,399.50 L731.80,398.65 L732.68,397.79 L733.57,396.92 L734.45,396.05 L735.34,395.17 L736.22,394.28 L737.11,393.39 L737.99,392.49 L738.88,391.58 L739.76,390.67 L740.65,389.74 L741.53,388.81 L742.42,387.88 L743.30,386.93 L744.19,385.98 L745.07,385.02 L745.96,384.05 L746.84,383.08 L747.73,382.09 L748.61,381.10 L749.50,380.10 L750.38,379.10 L751.27,378.08 L752.15,377.06 L753.04,376.03 L753.92,374.99 L754.81,373.94 L755.69,372.88 L756.58,371.81 L757.46,370.74 L758.35,369.66 L759.23,368.57 L760.12,367.46 L761.00,366.35 L761.89,365.24 L762.77,364.11 L763.66,362.97 L764.54,361.82 L765.43,360.67 L766.31,359.50 L767.20,358.33 L768.08,357.14 L768.97,355.95 L769.85,354.74 L770.74,353.53 L771.62,352.30 L772.51,351.07 L773.39,349.82 L774.28,348.57 L775.16,347.30 L776.05,346.03 L776.93,344.74 L777.82,343.44 L778.70,342.13 L779.59,340.82 L780.47,339.48 L781.36,338.14 L782.24,336.79 L783.13,335.43 L784.01,334.05 L784.90,332.67 L785.78,331.27 L786.67,329.86 L787.55,328.43 L788.44,327.00 L789.32,325.55 L790.21,324.10 L791.09,322.63 L791.98,321.14 L792.86,319.65 L793.75,318.14 L794.63,316.62 L795.52,315.08 L796.40,313.54 L797.29,311.98 L798.17,310.40 L799.06,308.82 L799.94,307.22 L800.83,305.60 L801.71,303.98 L802.60,302.34 L803.48,300.68 L804.37,299.01 L805.25,297.33 L806.14,295.63 L807.02,293.92 L807.91,292.19 L808.79,290.45 L809.68,288.69 L810.56,286.92 L811.45,285.13 L812.33,283.33 L813.22,281.51 L814.10,279.68 L814.99,277.83 L815.87,275.96 L816.76,274.08 L817.64,272.18 L818.53,270.27 L819.41,268.34 L820.30,266.39 L821.18,264.43 L822.07,262.45 L822.95,260.45 L823.84,258.43 L824.72,256.40 L825.61,254.35 L826.49,252.28 L827.38,250.19 L828.26,248.09 L828.71,247.03 L829.15,245.97 L829.59,244.90 L830.03,243.83 L830.48,242.75 L830.92,241.67 L831.36,240.58 L831.80,239.49 L832.25,238.39 L832.69,237.29 L833.13,236.18 L833.57,235.07 L834.02,233.96 L834.46,232.84 L834.90,231.71 L835.34,230.58 L835.78,229.45 L836.23,228.31 L836.67,227.16 L837.11,226.01 L837.55,224.86 L838.00,223.70 L838.44,222.53 L838.88,221.36 L839.32,220.19 L839.77,219.00 L840.21,217.82 L840.65,216.63 L841.09,215.43 L841.54,214.23 L841.98,213.02 L842.42,211.81 L842.87,210.60 L843.31,209.37 L843.75,208.15 L844.19,206.91 L844.63,205.67 L845.08,204.43 L845.52,203.18 L845.96,201.93 L846.41,200.67 L846.85,199.40 L847.29,198.13 L847.73,196.85 L848.18,195.57 L848.62,194.28 L849.06,192.99 L849.50,191.69 L849.95,190.39 L850.39,189.07 L850.83,187.76 L851.27,186.44 L851.72,185.11 L852.16,183.77 L852.60,182.43 L853.04,181.09 L853.48,179.74 L853.93,178.38 L854.37,177.02 L854.81,175.65 L855.25,174.27 L855.70,172.89 L856.14,171.50 L856.58,170.11 L857.02,168.71 L857.47,167.31 L857.91,165.89 L858.35,164.48 L858.79,163.05 L859.24,161.62 L859.68,160.18 L860.12,158.74 L860.57,157.29 L861.01,155.84 L861.45,154.37 L861.89,152.91 L862.34,151.43 L862.78,149.95 L863.22,148.46 L863.66,146.97 L864.11,145.47 L864.55,143.96 L864.99,142.44 L865.43,140.92 L865.88,139.39 L866.32,137.86 L866.76,136.32 L867.20,134.77 L867.64,133.22 L868.09,131.66 L868.53,130.09 L868.97,128.51 L869.41,126.93 L869.86,125.34 L870.30,123.74 L870.74,122.14 L871.19,120.53 L871.63,118.91 L872.07,117.29 L872.51,115.66 L872.96,114.02 L873.40,112.37 L873.84,110.72 L874.28,109.06 L874.73,107.39 L875.17,105.72 L875.61,104.04 L876.05,102.35 L876.50,100.65 L876.94,98.94 L877.38,97.23 L877.82,95.51 L878.27,93.79 L878.71,92.05 L879.15,90.31 L879.59,88.56 L880.03,86.80 L880.48,85.04 L880.92,83.26 L881.36,81.48 L881.80,79.69 L882.25,77.90 L882.69,76.09 L883.13,74.28 L883.57,72.46 L884.02,70.63 L884.46,68.80 L884.90,66.95 L885.34,65.10 L885.79,63.24 L886.23,61.37 L886.67,59.49 L887.12,57.61 L887.56,55.71 L888.00,53.81 L888.44,51.90 L888.88,49.98 L889.33,48.06 L889.77,46.12 L890.21,44.18 L890.65,42.23 L891.10,40.27 L891.54,38.30 L891.98,36.32 L892.43,34.33 L892.87,32.34 L893.31,30.33 L893.38,30.00"/>
<path stroke="#ff8000" d="M180.00,495.72 L181.77,495.66 L183.54,495.59 L185.31,495.51 L187.08,495.44 L188.85,495.37 L190.62,495.29 L192.39,495.22 L194.16,495.14 L195.93,495.06 L197.70,494.98 L199.47,494.89 L201.24,494.81 L203.01,494.72 L204.78,494.63 L206.55,494.54 L208.32,494.45 L210.09,494.36 L211.86,494.27 L213.63,494.17 L215.40,494.07 L217.17,493.98 L218.94,493.87 L220.71,493.77 L222.48,493.67 L224.25,493.56 L226.02,493.46 L227.79,493.35 L229.56,493.24 L231.33,493.13 L233.10,493.01 L234.87,492.90 L236.64,492.78 L238.41,492.66 L240.18,492.54 L241.95,492.42 L243.72,492.29 L245.49,492.17 L247.26,492.04 L249.03,491.91 L250.80,491.78 L252.57,491.65 L254.34,491.51 L256.11,491.38 L257.88,491.24 L259.65,491.10 L261.42,490.96 L263.19,490.81 L264.96,490.67 L266.73,490.52 L268.50,490.37 L270.27,490.22 L272.04,490.06 L273.81,489.91 L275.58,489.75 L277.35,489.59 L279.12,489.43 L280.89,489.26 L282.66,489.10 L284.43,488.93 L286.20,488.76 L287.97,488.59 L289.74,488.41 L291.51,488.23 L293.28,488.06 L295.05,487.87 L296.82,487.69 L298.59,487.51 L300.36,487.32 L302.13,487.13 L303.90,486.94 L305.67,486.74 L307.44,486.55 L309.21,486.35 L310.98,486.14 L312.75,485.94 L314.52,485.73 L316.29,485.53 L318.06,485.31 L319.83,485.10 L321.60,484.88 L323.37,484.67 L325.14,484.44 L326.91,484.22 L328.68,483.99 L330.45,483.77 L331.78,483.59 L333.11,483.42 L334.43,483.24 L335.76,483.06 L337.09,482.88 L338.41,482.70 L339.74,482.52 L341.07,482.33 L342.40,482.15 L343.73,481.96 L345.05,481.77 L346.38,481.58 L347.71,481.39 L349.04,481.20 L350.36,481.00 L351.69,480.80 L353.02,480.61 L354.34,480.40 L355.67,480.20 L357.00,480.00 L358.33,479.79 L359.66,479.59 L360.98,479.38 L362.31,479.17 L363.64,478.95 L364.96,478.74 L366.29,478.52 L367.62,478.31 L368.95,478.09 L370.27,477.86 L371.60,477.64 L372.93,477.42 L374.26,477.19 L375.58,476.96 L376.91,476.73 L378.24,476.50 L379.57,476.26 L380.89,476.02 L382.22,475.79 L383.55,475.54 L384.88,475.30 L386.20,475.06 L387.53,474.81 L388.86,474.56 L390.19,474.31 L391.51,474.06 L392.84,473.80 L394.17,473.54 L395.50,473.29 L396.82,473.02 L398.15,472.76 L399.48,472.49 L400.81,472.23 L402.14,471.96 L403.46,471.68 L404.79,471.41 L406.12,471.13 L407.44,470.85 L408.77,470.57 L410.10,470.29 L411.43,470.00 L412.75,469.71 L414.08,469.42 L415.41,469.13 L416.74,468.83 L418.06,468.53 L419.39,468.23 L420.72,467.93 L422.05,467.62 L423.38,467.31 L424.70,467.00 L426.03,466.69 L427.36,466.37 L428.69,466.05 L430.01,465.73 L431.34,465.41 L432.67,465.08 L434.00,464.75 L435.32,464.42 L436.65,464.08 L437.98,463.74 L439.31,463.40 L440.63,463.06 L441.96,462.71 L443.29,462.36 L444.62,462.01 L445.94,461.65 L447.27,461.29 L448.60,460.93 L449.93,460.57 L451.25,460.20 L452.58,459.83 L453.91,459.46 L455.23,459.08 L456.56,458.70 L457.89,458.32 L459.22,457.93 L460.55,457.54 L461.87,457.15 L463.20,456.75 L464.53,456.35 L465.86,455.95 L467.18,455.54 L468.51,455.13 L469.84,454.72 L471.17,454.30 L472.49,453.88 L473.82,453.45 L475.15,453.03 L476.47,452.59 L477.80,452.16 L479.13,451.72 L480.46,451.28 L481.79,450.83 L483.11,450.38 L484.44,449.93 L485.77,449.47 L487.10,449.01 L488.42,448.54 L489.75,448.07 L491.08,447.59 L492.41,447.12 L493.73,446.63 L495.06,446.15 L496.39,445.66 L497.71,445.16 L499.04,444.66 L500.37,444.16 L501.70,443.65 L503.03,443.14 L504.35,442.62 L505.68,442.10 L507.01,441.57 L508.33,441.04 L509.66,440.51 L510.99,439.97 L512.32,439.42 L513.64,438.87 L514.97,438.32 L516.30,437.76 L517.63,437.20 L518.95,436.63 L520.28,436.05 L521.61,435.47 L522.94,434.89 L524.27,434.30 L525.59,433.71 L526.92,433.10 L528.25,432.50 L529.58,431.89 L530.90,431.27 L532.23,430.65 L533.56,430.02 L534.88,429.39 L536.21,428.75 L537.54,428.11 L538.87,427.46 L540.20,426.80 L541.52,426.14 L542.85,425.47 L544.18,424.80 L545.50,424.12 L546.83,423.43 L548.16,422.74 L549.49,422.04 L550.82,421.33 L552.14,420.62 L553.47,419.90 L554.80,419.18 L556.12,418.45 L557.45,417.71 L558.78,416.96 L560.11,416.21 L561.44,415.45 L562.76,414.69 L564.09,413.91 L565.42,413.13 L566.75,412.35 L568.07,411.55 L569.40,410.75 L570.73,409.94 L572.05,409.12 L573.38,408.30 L574.71,407.46 L576.04,406.62 L577.37,405.78 L578.69,404.92 L580.02,404.05 L581.35,403.18 L582.67,402.30 L584.00,401.41 L585.33,400.52 L586.66,399.61 L587.99,398.69 L589.31,397.77 L590.20,397.15 L591.08,396.53 L591.97,395.90 L592.85,395.27 L593.74,394.63 L594.62,393.99 L595.51,393.34 L596.39,392.69 L597.28,392.04 L598.16,391.38 L599.05,390.72 L599.93,390.06 L600.82,389.39 L601.70,388.71 L602.59,388.03 L603.47,387.35 L604.36,386.66 L605.24,385.97 L606.13,385.28 L607.01,384.58 L607.90,383.87 L608.78,383.16 L609.67,382.45 L610.55,381.73 L611.44,381.00 L612.32,380.27 L613.21,379.54 L614.09,378.80 L614.98,378.06 L615.86,377.31 L616.75,376.56 L617.63,375.80 L618.52,375.04 L619.40,374.27 L620.29,373.50 L621.17,372.72 L622.06,371.93 L622.94,371.15 L623.83,370.35 L624.71,369.55 L625.60,368.75 L626.48,367.94 L627.37,367.12 L628.25,366.30 L629.14,365.48 L630.02,364.65 L630.91,363.81 L631.79,362.97 L632.68,362.12 L633.56,361.26 L634.45,360.40 L635.33,359.54 L636.22,358.67 L637.10,357.79 L637.99,356.91 L638.87,356.02 L639.76,355.12 L640.64,354.22 L641.53,353.31 L642.41,352.40 L643.30,351.48 L644.18,350.55 L645.07,349.62 L645.95,348.68 L646.84,347.74 L647.72,346.78 L648.61,345.82 L649.49,344.86 L650.38,343.89 L651.26,342.91 L652.15,341.92 L653.03,340.93 L653.92,339.93 L654.80,338.93 L655.69,337.92 L656.57,336.90 L657.46,335.87 L658.34,334.84 L659.23,333.79 L660.11,332.75 L661.00,331.69 L661.88,330.63 L662.77,329.56 L663.65,328.48 L664.54,327.39 L665.42,326.30 L666.31,325.20 L667.19,324.09 L668.08,322.97 L668.96,321.85 L669.85,320.72 L670.73,319.58 L671.62,318.43 L672.50,317.27 L673.39,316.11 L674.27,314.93 L675.16,313.75 L676.04,312.56 L676.93,311.36 L677.81,310.16 L678.70,308.94 L679.58,307.71 L680.47,306.48 L681.35,305.24 L682.24,303.99 L683.12,302.73 L684.01,301.46 L684.89,300.18 L685.78,298.89 L686.66,297.60 L687.55,296.29 L688.43,294.97 L689.32,293.65 L690.20,292.31 L691.09,290.97 L691.97,289.61 L692.86,288.25 L693.74,286.87 L694.63,285.49 L695.51,284.09 L696.40,282.69 L697.28,281.27 L698.17,279.85 L699.05,278.41 L699.94,276.96 L700.82,275.50 L701.71,274.03 L702.59,272.55 L703.48,271.06 L704.36,269.56 L705.25,268.05 L706.13,266.52 L707.02,264.99 L707.90,263.44 L708.79,261.88 L709.67,260.31 L710.56,258.73 L711.44,257.13 L712.33,255.53 L713.21,253.91 L714.10,252.28 L714.98,250.64 L715.87,248.98 L716.75,247.31 L717.64,245.63 L718.52,243.94 L719.41,242.23 L720.29,240.51 L721.18,238.78 L722.06,237.03 L722.95,235.27 L723.83,233.50 L724.72,231.71 L725.60,229.91 L726.49,228.10 L727.37,226.27 L728.26,224.43 L729.14,222.57 L730.03,220.70 L730.91,218.81 L731.80,216.91 L732.68,215.00 L733.57,213.07 L734.45,211.12 L735.34,209.16 L736.22,207.19 L737.11,205.20 L737.99,203.19 L738.88,201.17 L739.76,199.13 L740.65,197.07 L741.53,195.00 L742.42,192.92 L743.30,190.81 L743.75,189.75 L744.19,188.69 L744.63,187.62 L745.07,186.55 L745.52,185.48 L745.96,184.40 L746.40,183.32 L746.84,182.23 L747.28,181.14 L747.73,180.04 L748.17,178.94 L748.61,177.83 L749.05,176.72 L749.50,175.61 L749.94,174.49 L750.38,173.37 L750.83,172.24 L751.27,171.11 L751.71,169.97 L752.15,168.83 L752.60,167.68 L753.04,166.53 L753.48,165.38 L753.92,164.22 L754.37,163.05 L754.81,161.88 L755.25,160.71 L755.69,159.53 L756.13,158.35 L756.58,157.16 L757.02,155.97 L757.46,154.77 L757.90,153.57 L758.35,152.36 L758.79,151.15 L759.23,149.93 L759.67,148.71 L760.12,147.48 L760.56,146.25 L761.00,145.01 L761.45,143.77 L761.89,142.52 L762.33,141.27 L762.77,140.01 L763.22,138.75 L763.66,137.48 L764.10,136.21 L764.54,134.93 L764.99,133.65 L765.43,132.36 L765.87,131.07 L766.31,129.77 L766.75,128.46 L767.20,127.15 L767.64,125.84 L768.08,124.52 L768.52,123.19 L768.97,121.86 L769.41,120.52 L769.85,119.18 L770.29,117.83 L770.74,116.48 L771.18,115.12 L771.62,113.75 L772.07,112.38 L772.51,111.00 L772.95,109.62 L773.39,108.23 L773.84,106.84 L774.28,105.44 L774.72,104.04 L775.16,102.62 L775.61,101.21 L776.05,99.78 L776.49,98.36 L776.93,96.92 L777.38,95.48 L777.82,94.03 L778.26,92.58 L778.70,91.12 L779.15,89.66 L779.59,88.18 L780.03,86.71 L780.47,85.22 L780.91,83.73 L781.36,82.24 L781.80,80.73 L782.24,79.23 L782.69,77.71 L783.13,76.19 L783.57,74.66 L784.01,73.13 L784.46,71.58 L784.90,70.04 L785.34,68.48 L785.78,66.92 L786.23,65.35 L786.67,63.78 L787.11,62.20 L787.55,60.61 L788.00,59.02 L788.44,57.42 L788.88,55.81 L789.32,54.20 L789.77,52.57 L790.21,50.94 L790.65,49.31 L791.09,47.67 L791.53,46.02 L791.98,44.36 L792.42,42.70 L792.86,41.03 L793.30,39.35 L793.75,37.66 L794.19,35.97 L794.63,34.27 L795.08,32.56 L795.52,30.85 L795.74,30.00"/>
</g>
<g fill="none" stroke="#666" stroke-width="0.62">
<rect x="73.5" y="1.5" width="921.0" height="569.0"/>
<path stroke-width="0.7" d="M91.50,570.9 v-6.2 M91.50,1.1 v6.2 M135.75,570.9 v-5.0 M135.75,1.1 v5.0 M180.00,570.9 v-5.0 M180.00,1.1 v5.0 M224.25,570.9 v-5.0 M224.25,1.1 v5.0 M268.50,570.9 v-6.2 M268.50,1.1 v6.2 M312.75,570.9 v-5.0 M312.75,1.1 v5.0 M357.00,570.9 v-5.0 M357.00,1.1 v5.0 M401.25,570.9 v-5.0 M401.25,1.1 v5.0 M445.50,570.9 v-6.2 M445.50,1.1 v6.2 M489.75,570.9 v-5.0 M489.75,1.1 v5.0 M534.00,570.9 v-5.0 M534.00,1.1 v5.0 M578.25,570.9 v-5.0 M578.25,1.1 v5.0 M622.50,570.9 v-6.2 M622.50,1.1 v6.2 M666.75,570.9 v-5.0 M666.75,1.1 v5.0 M711.00,570.9 v-5.0 M711.00,1.1 v5.0 M755.25,570.9 v-5.0 M755.25,1.1 v5.0 M799.50,570.9 v-6.2 M799.50,1.1 v6.2 M843.75,570.9 v-5.0 M843.75,1.1 v5.0 M888.00,570.9 v-5.0 M888.00,1.1 v5.0 M932.25,570.9 v-5.0 M932.25,1.1 v5.0 M976.50,570.9 v-6.2 M976.50,1.1 v6.2 M73.1,567.10 h5.0 M994.9,567.10 h-5.0 M73.1,542.50 h6.2 M994.9,542.50 h-6.2 M73.1,517.90 h5.0 M994.9,517.90 h-5.0 M73.1,493.30 h5.0 M994.9,493.30 h-5.0 M73.1,468.70 h5.0 M994.9,468.70 h-5.0 M73.1,444.10 h6.2 M994.9,444.10 h-6.2 M73.1,419.50 h5.0 M994.9,419.50 h-5.0 M73.1,394.90 h5.0 M994.9,394.90 h-5.0 M73.1,370.30 h5.0 M994.9,370.30 h-5.0 M73.1,345.70 h6.2 M994.9,345.70 h-6.2 M73.1,321.10 h5.0 M994.9,321.10 h-5.0 M73.1,296.50 h5.0 M994.9,296.50 h-5.0 M73.1,271.90 h5.0 M994.9,271.90 h-5.0 M73.1,247.30 h6.2 M994.9,247.30 h-6.2 M73.1,222.70 h5.0 M994.9,222.70 h-5.0 M73.1,198.10 h5.0 M994.9,198.10 h-5.0 M73.1,173.50 h5.0 M994.9,173.50 h-5.0 M73.1,148.90 h6.2 M994.9,148.90 h-6.2 M73.1,124.30 h5.0 M994.9,124.30 h-5.0 M73.1,99.70 h5.0 M994.9,99.70 h-5.0 M73.1,75.10 h5.0 M994.9,75.10 h-5.0 M73.1,50.50 h6.2 M994.9,50.50 h-6.2 M73.1,25.90 h5.0 M994.9,25.90 h-5.0 M73.1,1.30 h5.0 M994.9,1.30 h-5.0"/>
</g>
<g font-size="18.9">
<text transform="translate(91.50,593.1) scale(1,1.035)" text-anchor="middle">0</text>
<text transform="translate(268.50,593.1) scale(1,1.035)" text-anchor="middle">2</text>
<text transform="translate(445.50,593.1) scale(1,1.035)" text-anchor="middle">4</text>
<text transform="translate(622.50,593.1) scale(1,1.035)" text-anchor="middle">6</text>
<text transform="translate(799.50,593.1) scale(1,1.035)" text-anchor="middle">8</text>
<text transform="translate(976.50,593.1) scale(1,1.035)" text-anchor="middle">10</text>
<text transform="translate(68.75,549.80) scale(1,1.035)" text-anchor="end">0.00</text>
<text transform="translate(68.75,451.40) scale(1,1.035)" text-anchor="end">0.02</text>
<text transform="translate(68.75,353.00) scale(1,1.035)" text-anchor="end">0.04</text>
<text transform="translate(68.75,254.60) scale(1,1.035)" text-anchor="end">0.06</text>
<text transform="translate(68.75,156.20) scale(1,1.035)" text-anchor="end">0.08</text>
<text transform="translate(68.75,57.80) scale(1,1.035)" text-anchor="end">0.10</text>
</g>
<text transform="translate(533.9,624) scale(1,0.95)" font-size="19.5" text-anchor="middle">r</text>
<g transform="translate(17.7,309.8) rotate(-90)"><text transform="translate(0,-0.4) scale(1.09,0.96)" font-size="18" font-style="italic">e</text><text transform="translate(11.8,-9) scale(1,1)" font-size="14.2">2</text><text transform="translate(21.0,-8.7) scale(0.88,1)" font-size="14.2">x</text><text transform="translate(30.4,-9) scale(1,1)" font-size="14.2">(</text><text transform="translate(35.3,-9) scale(1.2,1)" font-size="14.2" font-style="italic">r</text><text transform="translate(42.3,-9) scale(1,1)" font-size="14.2">)</text></g>
<g font-size="20.4">
<path d="M129.6,77.95 H159" stroke="#0000ff" stroke-width="3" fill="none"/><text transform="translate(169.2,82.90) scale(0.998,1.025)" xml:space="preserve">E=0.00292 F=1.0899</text>
<path d="M129.6,113.45 H159" stroke="#ff0000" stroke-width="3" fill="none"/><text transform="translate(169.2,118.40) scale(0.998,1.025)" xml:space="preserve">E=0.00275 F=1.0849</text>
<path d="M129.6,148.95 H159" stroke="#00ff00" stroke-width="3" fill="none"/><text transform="translate(169.2,153.90) scale(0.998,1.025)" xml:space="preserve">E=0.00267 F=1.0826</text>
<path d="M129.6,184.45 H159" stroke="#000000" stroke-width="3" fill="none"/><text transform="translate(169.2,189.40) scale(0.998,1.025)" xml:space="preserve">E=0.002523 F=1.07668</text>
<path d="M129.6,219.95 H159" stroke="#ff8000" stroke-width="3" fill="none"/><text transform="translate(169.2,224.90) scale(0.998,1.025)" xml:space="preserve">E=0.00236 F=1.07003</text>
</g>
</svg>
</body></html>
